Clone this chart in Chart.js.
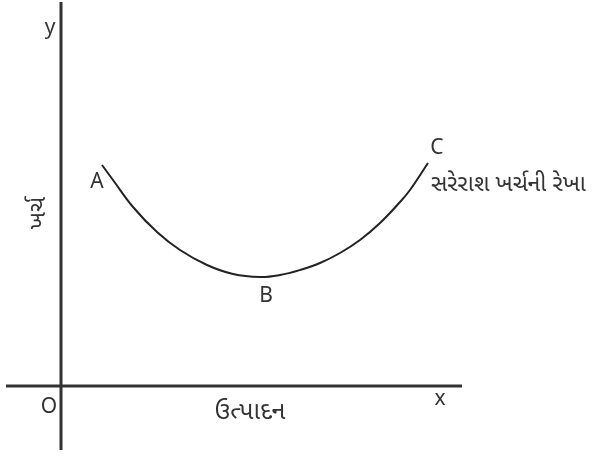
<!DOCTYPE html>
<html>
<head>
<meta charset="utf-8">
<script src="https://cdn.jsdelivr.net/npm/chart.js@4.4.1/dist/chart.umd.min.js"></script>
<style>
  html, body { margin: 0; padding: 0; background: #fff; }
  #wrap { width: 592px; height: 456px; }
</style>
</head>
<body>
<div id="wrap"><canvas id="costChart" width="592" height="456"></canvas></div>
<script>
// 平均費用曲線 (x = ઉત્પાદન, y = ખર્ચ), origin O = (0, 0)
const outputX = [41, 52, 72, 96, 119, 146, 172, 199, 219, 239, 259, 279, 299, 319, 339, 349, 367];
const costY   = [221, 206, 179, 154, 136, 121, 112, 109, 111, 116, 123, 133, 146, 163, 184, 196, 223];

// axis extents (data units)
const xAxisExtent = [-55, 401];
const yAxisExtent = [-64, 384];

const curveLabel = 'સરેરાશ ખર્ચની રેખા';
const xTitle = 'ઉત્પાદન';
const yTitle = 'ખર્ચ';

const INK = '#333333';
const FONT = '"Noto Sans", "Noto Sans Gujarati", sans-serif';

// text labels drawn through the scales
const labelPlugin = {
  id: 'labels',
  afterDatasetsDraw(chart) {
    const { ctx, scales: { x, y } } = chart;
    const px = v => x.getPixelForValue(v);
    const py = v => y.getPixelForValue(v);

    ctx.save();
    ctx.fillStyle = INK;
    ctx.textBaseline = 'middle';
    ctx.textAlign = 'center';

    ctx.font = '21px ' + FONT;
    ctx.fillText('y', px(-11), py(358));
    ctx.fillText('O', px(-12), py(-21));
    ctx.fillText('x', px(379), py(-13));
    ctx.fillText('A', px(36), py(204));
    ctx.fillText('B', px(205), py(90));
    ctx.fillText('C', px(376), py(238));

    ctx.font = '25px ' + FONT;
    ctx.fillText(xTitle, px(189), py(-26));
    ctx.font = '23px ' + FONT;
    ctx.textAlign = 'left';
    ctx.fillText(curveLabel, px(370), py(202));

    // rotated y title
    ctx.font = '23px ' + FONT;
    ctx.translate(px(-23), py(173));
    ctx.rotate(-Math.PI / 2);
    ctx.textAlign = 'center';
    ctx.fillText(yTitle, 0, 0);
    ctx.restore();
  }
};

new Chart(document.getElementById('costChart'), {
  type: 'scatter',
  data: {
    datasets: [
      {
        // x axis
        data: xAxisExtent.map(v => ({ x: v, y: 0 })),
        showLine: true,
        borderColor: INK,
        borderWidth: 3,
        pointRadius: 0
      },
      {
        // y axis
        data: yAxisExtent.map(v => ({ x: 0, y: v })),
        showLine: true,
        borderColor: INK,
        borderWidth: 3,
        pointRadius: 0
      },
      {
        data: outputX.map((v, i) => ({ x: v, y: costY[i] })),
        showLine: true,
        borderColor: '#222222',
        borderWidth: 2,
        pointRadius: 0,
        tension: 0.4
      }
    ]
  },
  options: {
    responsive: false,
    animation: false,
    events: [],
    layout: { padding: 0 },
    plugins: { legend: { display: false }, tooltip: { enabled: false } },
    scales: {
      x: { type: 'linear', display: false, min: -61, max: 531 },
      y: { type: 'linear', display: false, min: -70, max: 386 }
    }
  },
  plugins: [labelPlugin]
});
</script>
</body>
</html>
